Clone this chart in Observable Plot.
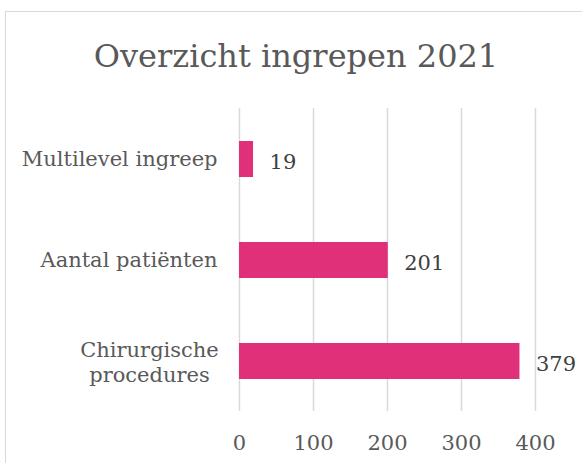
<!DOCTYPE html>
<html>
<head>
<meta charset="utf-8">
<script src="https://cdn.jsdelivr.net/npm/d3@7"></script>
<script src="https://cdn.jsdelivr.net/npm/@observablehq/plot@0.6"></script>
<style>
  html, body { margin: 0; padding: 0; background: white; }
  #wrap { position: relative; width: 582px; height: 463px; overflow: hidden; background: white; }
  #border { position: absolute; left: 5px; top: 11px; width: 600px; height: 500px;
            border-left: 1.5px solid #d9d9d9; border-top: 1.5px solid #d9d9d9; pointer-events: none; }
  #title { position: relative; height: 88px; box-sizing: border-box; padding-top: 40px;
           font-family: "DejaVu Serif", serif; font-size: 32px; line-height: 1; color: #595959;
           text-align: center; padding-left: 10px; }
  #chart { position: relative; }
</style>
</head>
<body>
<div id="wrap">
  <div id="title">Overzicht ingrepen 2021</div>
  <div id="chart"></div>
  <div id="border"></div>
</div>
<script>
const categories = ["Multilevel ingreep", "Aantal patiënten", "Chirurgische procedures"];
const categoryLabels = ["Multilevel ingreep", "Aantal patiënten", "Chirurgische\nprocedures"];
const values = [19, 201, 379];
const xTicks = [0, 100, 200, 300, 400];

const data = categories.map((c, i) => ({category: c, label: categoryLabels[i], value: values[i]}));
const labelOf = new Map(categories.map((c, i) => [c, categoryLabels[i]]));
const singleLine = categories.filter((c, i) => !categoryLabels[i].includes("\n"));
const multiLine = categories.filter((c, i) => categoryLabels[i].includes("\n"));

const chart = Plot.plot({
  width: 582,
  height: 375,
  marginTop: 20,
  marginBottom: 52,
  marginLeft: 239,
  marginRight: 47,
  style: {fontFamily: "DejaVu Serif, serif", color: "#595959", background: "transparent"},
  x: {domain: [0, 400], axis: null},
  y: {domain: categories, paddingInner: 0.644, paddingOuter: 0.322, axis: null},
  marks: [
    Plot.gridX(xTicks, {stroke: "#d9d9d9", strokeOpacity: 1, strokeWidth: 1.5}),
    Plot.axisX(xTicks, {tickSize: 0, tickPadding: 24, fontSize: 21, fill: "#595959", label: null}),
    Plot.axisY(singleLine, {tickSize: 0, tickPadding: 22, fontSize: 21, fill: "#595959",
                tickFormat: d => labelOf.get(d), label: null}),
    Plot.axisY(multiLine, {tickSize: 0, tickPadding: 90, fontSize: 21, fill: "#595959",
                textAnchor: "middle", tickFormat: d => labelOf.get(d), lineHeight: 1.2, label: null}),
    Plot.barX(data, {x: "value", y: "category", fill: "#E0307A"}),
    Plot.text(data, {x: "value", y: "category", text: d => String(d.value),
                     textAnchor: "start", dx: 16, dy: 3, fontSize: 21, fill: "#404040"})
  ]
});
document.getElementById("chart").appendChild(chart);
</script>
</body>
</html>
